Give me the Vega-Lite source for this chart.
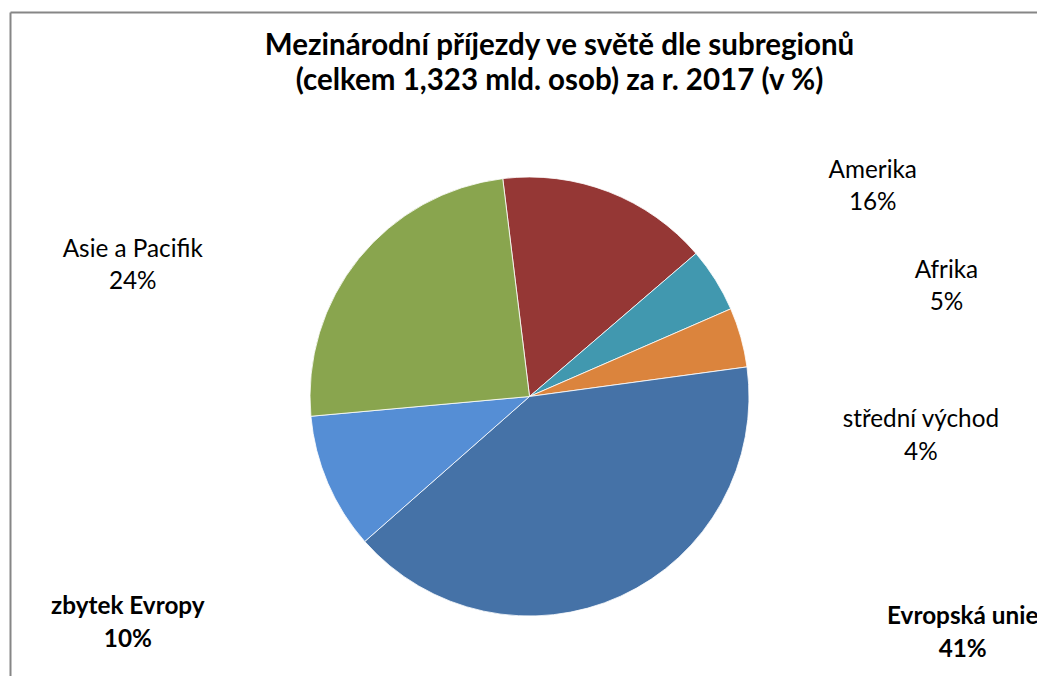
{
  "$schema": "https://vega.github.io/schema/vega-lite/v6.json",
  "width": 1039,
  "height": 769,
  "autosize": "none",
  "padding": {"left": 10, "top": 12, "right": -12, "bottom": -105},
  "background": "white",
  "view": {"stroke": null},
  "config": {"font": "Lato"},
  "title": {
    "text": ["Mezinárodní příjezdy ve světě dle subregionů", "(celkem 1,323 mld. osob) za r. 2017 (v %)"],
    "font": "Lato",
    "fontSize": 29.5,
    "fontWeight": "bold",
    "color": "black",
    "anchor": "middle",
    "frame": "group",
    "orient": "top",
    "baseline": "alphabetic",
    "lineHeight": 35,
    "offset": -107,
    "dx": 30
  },
  "data": {
    "values": [
      {"region": "Amerika", "mil_osob": 207, "podil": 0.16, "poradi": 1},
      {"region": "Afrika", "mil_osob": 63, "podil": 0.05, "poradi": 2},
      {"region": "střední východ", "mil_osob": 58, "podil": 0.04, "poradi": 3},
      {"region": "Evropská unie", "mil_osob": 538, "podil": 0.41, "poradi": 4},
      {"region": "zbytek Evropy", "mil_osob": 133, "podil": 0.10, "poradi": 5},
      {"region": "Asie a Pacifik", "mil_osob": 324, "podil": 0.24, "poradi": 6}
    ]
  },
  "layer": [
    {
      "mark": {"type": "point", "opacity": 0},
      "encoding": {
        "x": {"field": "mil_osob", "type": "quantitative", "axis": {"orient": "top", "domain": true, "domainColor": "#868686", "domainWidth": 2, "ticks": false, "labels": false, "grid": false, "title": null}},
        "y": {"field": "mil_osob", "type": "quantitative", "axis": {"orient": "left", "domain": true, "domainColor": "#868686", "domainWidth": 2, "ticks": false, "labels": false, "grid": false, "title": null}}
      }
    },
    {
      "mark": {"type": "arc", "radius": 219.5, "stroke": "white", "strokeWidth": 0.8},
      "encoding": {
        "theta": {"field": "mil_osob", "type": "quantitative", "stack": true, "scale": {"range": [-0.12217, 6.16101]}},
        "order": {"field": "poradi", "type": "quantitative"},
        "color": {
          "field": "region",
          "type": "nominal",
          "scale": {
            "domain": ["Amerika", "Afrika", "střední východ", "Evropská unie", "zbytek Evropy", "Asie a Pacifik"],
            "range": ["#953735", "#4198AF", "#DB843D", "#4572A7", "#558ED5", "#89A54E"]
          },
          "legend": null
        }
      }
    },
    {
      "mark": {
        "type": "text",
        "radius": 219.5,
        "fontSize": 24.3,
        "align": "center",
        "baseline": "alphabetic",
        "color": "black",
        "fontWeight": {"expr": "datum.region === 'Evropská unie' || datum.region === 'zbytek Evropy' ? 'bold' : 'normal'"},
        "dx": {"expr": "datum.region === 'Amerika' ? 264 : datum.region === 'Afrika' ? 231 : datum.region === 'střední východ' ? 180 : datum.region === 'Evropská unie' ? 342 : datum.region === 'zbytek Evropy' ? -200 : -226"},
        "dy": {"expr": "datum.region === 'Amerika' ? -14 : datum.region === 'Afrika' ? -2 : datum.region === 'střední východ' ? 90 : datum.region === 'Evropská unie' ? 28 : datum.region === 'zbytek Evropy' ? 131 : -2"}
      },
      "encoding": {
        "theta": {"field": "mil_osob", "type": "quantitative", "stack": true},
        "order": {"field": "poradi", "type": "quantitative"},
        "text": {"field": "region", "type": "nominal"}
      }
    },
    {
      "mark": {
        "type": "text",
        "radius": 219.5,
        "fontSize": 24.3,
        "align": "center",
        "baseline": "alphabetic",
        "color": "black",
        "fontWeight": {"expr": "datum.region === 'Evropská unie' || datum.region === 'zbytek Evropy' ? 'bold' : 'normal'"},
        "dx": {"expr": "datum.region === 'Amerika' ? 264 : datum.region === 'Afrika' ? 231 : datum.region === 'střední východ' ? 180 : datum.region === 'Evropská unie' ? 342 : datum.region === 'zbytek Evropy' ? -200 : -226"},
        "dy": {"expr": "(datum.region === 'Amerika' ? -14 : datum.region === 'Afrika' ? -2 : datum.region === 'střední východ' ? 90 : datum.region === 'Evropská unie' ? 28 : datum.region === 'zbytek Evropy' ? 131 : -2) + 32.5"}
      },
      "encoding": {
        "theta": {"field": "mil_osob", "type": "quantitative", "stack": true},
        "order": {"field": "poradi", "type": "quantitative"},
        "text": {"field": "podil", "type": "quantitative", "format": ".0%"}
      }
    }
  ]
}
